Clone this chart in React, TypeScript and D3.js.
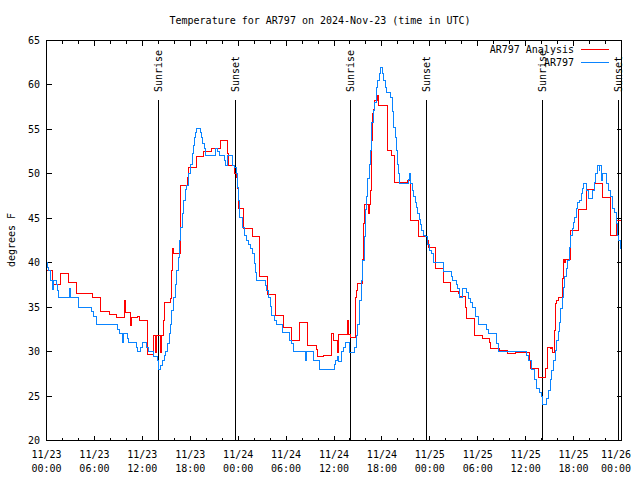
import { useEffect, useRef } from "react";
import * as d3 from "d3";

const title = "Temperature for AR797 on 2024-Nov-23 (time in UTC)";
const days = ["11/23", "11/24", "11/25", "11/26"];
const clock = ["00:00", "06:00", "12:00", "18:00"];
const yTicks = [20, 25, 30, 35, 40, 45, 50, 55, 60, 65];
// hours after 11/23 00:00 UTC
const sunrise = [14.0, 38.0, 62.05];
const sunset = [23.55, 47.55, 71.5];

// [hours after 11/23 00:00 UTC, deg F]
const analysis: [number, number][] = [
  [0.1, 39.1], [0.7, 37.6], [1.7, 38.75], [2.75, 37.75], [3.7, 36.5],
  [5.75, 36.05], [6.75, 34.5], [7.85, 34.2], [8.8, 33.8], [9.75, 35.75],
  [9.95, 34.4], [10.5, 32.9], [10.7, 33.8], [11.4, 34.0], [11.6, 33.5],
  [12.7, 29.7], [13.4, 31.8], [13.7, 29.9], [13.8, 31.8], [14.3, 29.9],
  [14.45, 31.8], [14.7, 33.5], [14.8, 35.55], [15.5, 36.0], [15.6, 39.1],
  [15.75, 41.6], [15.85, 41.0], [16.83, 48.7], [17.6, 49.6], [17.75, 50.75],
  [18.75, 51.95], [19.7, 52.5], [20.7, 52.9], [21.75, 53.75], [22.7, 52.25],
  [22.8, 50.9], [23.55, 50.0], [23.75, 49.6], [23.9, 48.3], [24.05, 46.05],
  [24.7, 43.8], [25.75, 42.95], [26.65, 38.4], [27.65, 36.4], [28.7, 34.05],
  [29.65, 32.7], [30.7, 31.3], [31.65, 33.3], [32.7, 30.7], [33.75, 30.2],
  [33.9, 29.45], [34.65, 29.55], [35.7, 32.0], [35.9, 31.3], [36.1, 31.2],
  [36.4, 29.9], [36.6, 31.9], [37.7, 33.5], [37.85, 31.9], [38.05, 31.6],
  [38.7, 36.1], [38.8, 36.9], [38.95, 37.7], [39.6, 40.4], [39.7, 44.4],
  [39.8, 46.6], [40.3, 45.5], [40.4, 46.6], [40.55, 48.1], [40.7, 53.75],
  [40.8, 56.75], [40.95, 57.2], [41.1, 58.25], [41.4, 58.8], [41.6, 57.7],
  [42.7, 52.6], [43.2, 52.05], [43.6, 49.05], [45.2, 49.25], [45.6, 44.8],
  [46.6, 43.0], [47.65, 42.5], [47.8, 41.75], [48.7, 39.4], [49.65, 37.75],
  [50.6, 36.75], [51.55, 36.5], [51.7, 36.2], [52.5, 35.0], [52.55, 33.7],
  [53.55, 33.0], [53.6, 31.8], [54.6, 31.5], [55.5, 31.0], [55.65, 30.4],
  [56.7, 30.1], [57.7, 29.75], [58.7, 29.9], [60.5, 29.0], [60.6, 28.05],
  [61.55, 27.1], [62.5, 28.05], [62.7, 30.5], [63.05, 30.3], [63.25, 30.5],
  [63.35, 29.9], [63.6, 32.4], [63.75, 35.4], [63.9, 35.75], [64.05, 36.1],
  [64.55, 38.2], [64.7, 40.4], [64.85, 40.0], [64.95, 40.4], [65.6, 43.6],
  [66.65, 45.95], [67.6, 48.2], [68.6, 48.9], [69.6, 47.3], [70.6, 43.05],
  [71.4, 44.8], [72.0, 44.8],
];

const observed: [number, number][] = [
  [0, 40.0], [0.1, 39.5], [0.25, 39.1], [0.5, 38.0], [0.8, 37.0],
  [0.92, 38.0], [1.2, 37.5], [1.33, 36.9], [1.55, 36.05], [2.92, 37.05],
  [3.05, 36.05], [4.05, 35.0], [5.58, 34.5], [5.92, 34.0], [6.25, 33.0],
  [8.92, 32.5], [9.08, 32.0], [9.54, 31.0], [9.62, 32.0], [10.2, 31.5],
  [10.33, 31.0], [11.25, 30.5], [11.38, 30.0], [11.83, 30.5], [11.96, 31.0],
  [12.58, 30.5], [12.71, 30.0], [13.42, 29.5], [13.92, 29.0], [14.04, 28.0],
  [14.33, 28.4], [14.54, 29.0], [14.75, 29.6], [14.96, 30.05], [15.17, 30.9],
  [15.38, 32.0], [15.58, 33.1], [15.7, 34.6], [15.92, 36.1], [16.12, 37.6],
  [16.33, 39.1], [16.54, 40.6], [16.67, 42.5], [16.83, 44.0], [17.0, 45.5],
  [17.17, 47.0], [17.42, 48.2], [17.58, 48.7], [17.8, 50.0], [18.08, 51.1],
  [18.29, 52.25], [18.42, 53.2], [18.54, 54.1], [18.7, 54.7], [18.83, 55.1],
  [19.33, 54.7], [19.46, 54.1], [19.58, 53.4], [19.75, 52.8], [19.96, 52.05],
  [21.12, 52.9], [21.4, 52.5], [21.6, 52.05], [22.25, 51.5], [22.46, 50.9],
  [22.7, 52.05], [23.3, 50.9], [23.5, 50.75], [23.75, 50.0], [23.9, 48.5],
  [24.04, 47.0], [24.17, 45.1], [24.6, 44.0], [24.85, 43.05], [25.1, 42.5],
  [25.35, 42.0], [25.55, 41.6], [25.75, 41.0], [26.0, 39.9], [26.15, 38.9],
  [26.3, 38.0], [27.4, 37.4], [27.6, 36.9], [27.8, 36.1], [28.05, 35.1],
  [28.2, 34.05], [28.6, 33.5], [28.75, 33.05], [29.55, 32.2], [30.4, 31.25],
  [30.7, 30.95], [30.9, 30.0], [32.4, 29.0], [32.5, 30.0], [33.4, 29.0],
  [34.15, 27.95], [36.05, 28.6], [36.2, 29.0], [36.4, 29.5], [36.6, 28.9],
  [37.0, 30.0], [37.2, 30.5], [37.4, 31.05], [38.0, 29.9], [38.6, 30.5],
  [38.8, 31.8], [39.0, 33.1], [39.2, 35.75], [39.4, 38.0], [39.6, 40.25],
  [39.8, 43.0], [39.95, 46.0], [40.1, 47.4], [40.25, 49.5], [40.4, 51.1],
  [40.55, 52.6], [40.65, 53.75], [40.75, 55.8], [40.9, 57.1], [41.1, 58.05],
  [41.3, 59.75], [41.5, 60.5], [41.65, 61.3], [41.8, 62.0], [42.05, 61.3],
  [42.2, 60.5], [42.4, 59.7], [42.6, 59.1], [43.1, 58.6], [43.3, 57.0],
  [43.45, 55.25], [43.65, 54.1], [43.8, 52.6], [43.95, 51.1], [44.1, 50.0],
  [44.2, 48.95], [45.3, 49.4], [45.4, 50.0], [45.55, 48.9], [45.85, 48.1],
  [46.0, 47.4], [46.15, 46.8], [46.35, 46.2], [46.5, 45.5], [46.65, 44.9],
  [46.8, 44.3], [46.95, 43.6], [47.15, 43.1], [47.4, 42.9], [47.7, 42.1],
  [47.95, 41.4], [48.2, 41.0], [48.5, 40.0], [49.65, 39.0], [50.7, 38.5],
  [50.9, 38.0], [51.35, 37.5], [51.5, 37.05], [51.75, 36.1], [52.05, 37.05],
  [52.65, 36.6], [52.9, 36.0], [53.1, 35.5], [53.4, 35.0], [53.75, 33.95],
  [54.05, 33.0], [55.15, 32.5], [55.3, 32.0], [56.35, 30.95], [56.6, 30.0],
  [60.15, 29.55], [60.4, 29.0], [60.7, 27.95], [61.1, 26.9], [61.35, 25.9],
  [61.75, 25.4], [61.95, 24.95], [62.15, 24.05], [62.65, 24.7], [62.85, 25.6],
  [63.05, 26.9], [63.25, 27.9], [63.5, 29.0], [63.7, 30.1], [63.85, 31.25],
  [64.05, 32.3], [64.2, 33.3], [64.4, 34.8], [64.55, 36.1], [64.7, 37.2],
  [64.9, 38.4], [65.1, 39.3], [65.25, 40.25], [65.45, 41.75], [65.6, 43.05],
  [65.85, 43.8], [66.0, 44.55], [66.15, 45.1], [66.35, 46.05], [66.55, 46.8],
  [66.75, 47.0], [66.95, 47.75], [67.15, 48.4], [67.25, 48.9], [67.65, 48.1],
  [67.9, 47.2], [68.4, 48.1], [68.6, 49.05], [68.8, 50.0], [69.0, 50.9],
  [69.2, 50.4], [69.3, 50.9], [69.45, 49.25], [69.65, 50.0], [70.1, 48.95],
  [70.4, 48.1], [70.6, 47.5], [70.9, 46.05], [71.1, 45.7], [71.35, 44.4],
  [71.5, 43.05], [71.65, 42.5], [71.85, 41.55], [72.0, 41.55],
];

const FONT = "'DejaVu Sans Mono', 'Liberation Mono', monospace";

export default function App() {
  const ref = useRef<SVGSVGElement | null>(null);

  useEffect(() => {
    if (!ref.current) return;
    const svg = d3.select(ref.current);
    svg.selectAll("*").remove();

    const left = 46.5, right = 621.5, top = 40.5, bottom = 440.5;
    const x = d3.scaleLinear().domain([0, 72]).range([left, right]);
    const y = d3.scaleLinear().domain([20, 65]).range([bottom, top]);

    svg.append("rect").attr("width", 640).attr("height", 480).attr("fill", "#fff");

    const txt = (sel: d3.Selection<SVGTextElement, unknown, null, undefined>) =>
      sel.attr("font-family", FONT).attr("font-size", 10).attr("fill", "#000");

    svg.append("text").call(txt)
      .attr("x", 320).attr("y", 23.5).attr("text-anchor", "middle").text(title);

    const g = svg.append("g").attr("shape-rendering", "crispEdges");

    // y ticks (mirrored on the right)
    yTicks.forEach((v) => {
      const yy = y(v);
      g.append("line").attr("x1", left).attr("x2", left + 5).attr("y1", yy).attr("y2", yy).attr("stroke", "#000");
      g.append("line").attr("x1", right).attr("x2", right - 5).attr("y1", yy).attr("y2", yy).attr("stroke", "#000");
      svg.append("text").call(txt)
        .attr("x", 40).attr("y", yy + 3.5).attr("text-anchor", "end").text(String(v));
    });

    // x ticks every 2 h, labelled every 6 h
    d3.range(0, 73, 2).forEach((h) => {
      const xx = x(h);
      const major = h % 6 === 0;
      const len = major ? 5 : 3;
      g.append("line").attr("x1", xx).attr("x2", xx).attr("y1", bottom).attr("y2", bottom - len).attr("stroke", "#000");
      g.append("line").attr("x1", xx).attr("x2", xx).attr("y1", top).attr("y2", top + len).attr("stroke", "#000");
      if (major) {
        // keep the last label inside the canvas
        const lx = Math.min(xx, 616);
        svg.append("text").call(txt)
          .attr("x", lx).attr("y", 457.5).attr("text-anchor", "middle").text(days[Math.floor(h / 24)]);
        svg.append("text").call(txt)
          .attr("x", lx).attr("y", 471.5).attr("text-anchor", "middle").text(clock[(h % 24) / 6]);
      }
    });

    svg.append("text").call(txt)
      .attr("transform", "translate(12,240) rotate(-90)")
      .attr("text-anchor", "middle").attr("dominant-baseline", "middle").text("degrees F");

    // sunrise / sunset markers
    const marks = [
      ...sunrise.map((h) => ({ h, label: "Sunrise" })),
      ...sunset.map((h) => ({ h, label: "Sunset" })),
    ];
    marks.forEach((m) => {
      const xx = Math.round(x(m.h)) + 0.5;
      g.append("line").attr("x1", xx).attr("x2", xx).attr("y1", 99.5).attr("y2", bottom).attr("stroke", "#000");
      svg.append("text").call(txt)
        .attr("transform", `translate(${xx},92) rotate(-90)`)
        .attr("dominant-baseline", "middle").text(m.label);
    });

    const line = d3.line<[number, number]>()
      .x((d) => x(d[0]))
      .y((d) => y(d[1]))
      .curve(d3.curveStepAfter);

    const series = [
      { name: "AR797 Analysis", data: analysis, color: "#ff0000", ly: 49.5 },
      { name: "AR797", data: observed, color: "#0a84ff", ly: 62.5 },
    ];
    series.forEach((s) => {
      g.append("path").datum(s.data).attr("d", line)
        .attr("fill", "none").attr("stroke", s.color).attr("stroke-width", 1);
      g.append("line").attr("x1", 581).attr("x2", 609).attr("y1", s.ly).attr("y2", s.ly)
        .attr("stroke", s.color);
      svg.append("text").call(txt)
        .attr("x", 574).attr("y", s.ly + 3.5).attr("text-anchor", "end").text(s.name);
    });

    g.append("rect").attr("x", left).attr("y", top)
      .attr("width", right - left).attr("height", bottom - top)
      .attr("fill", "none").attr("stroke", "#000");
  }, []);

  return (
    <svg
      ref={ref}
      width={640}
      height={480}
      viewBox="0 0 640 480"
      style={{ position: "absolute", left: 0, top: 0 }}
    />
  );
}
